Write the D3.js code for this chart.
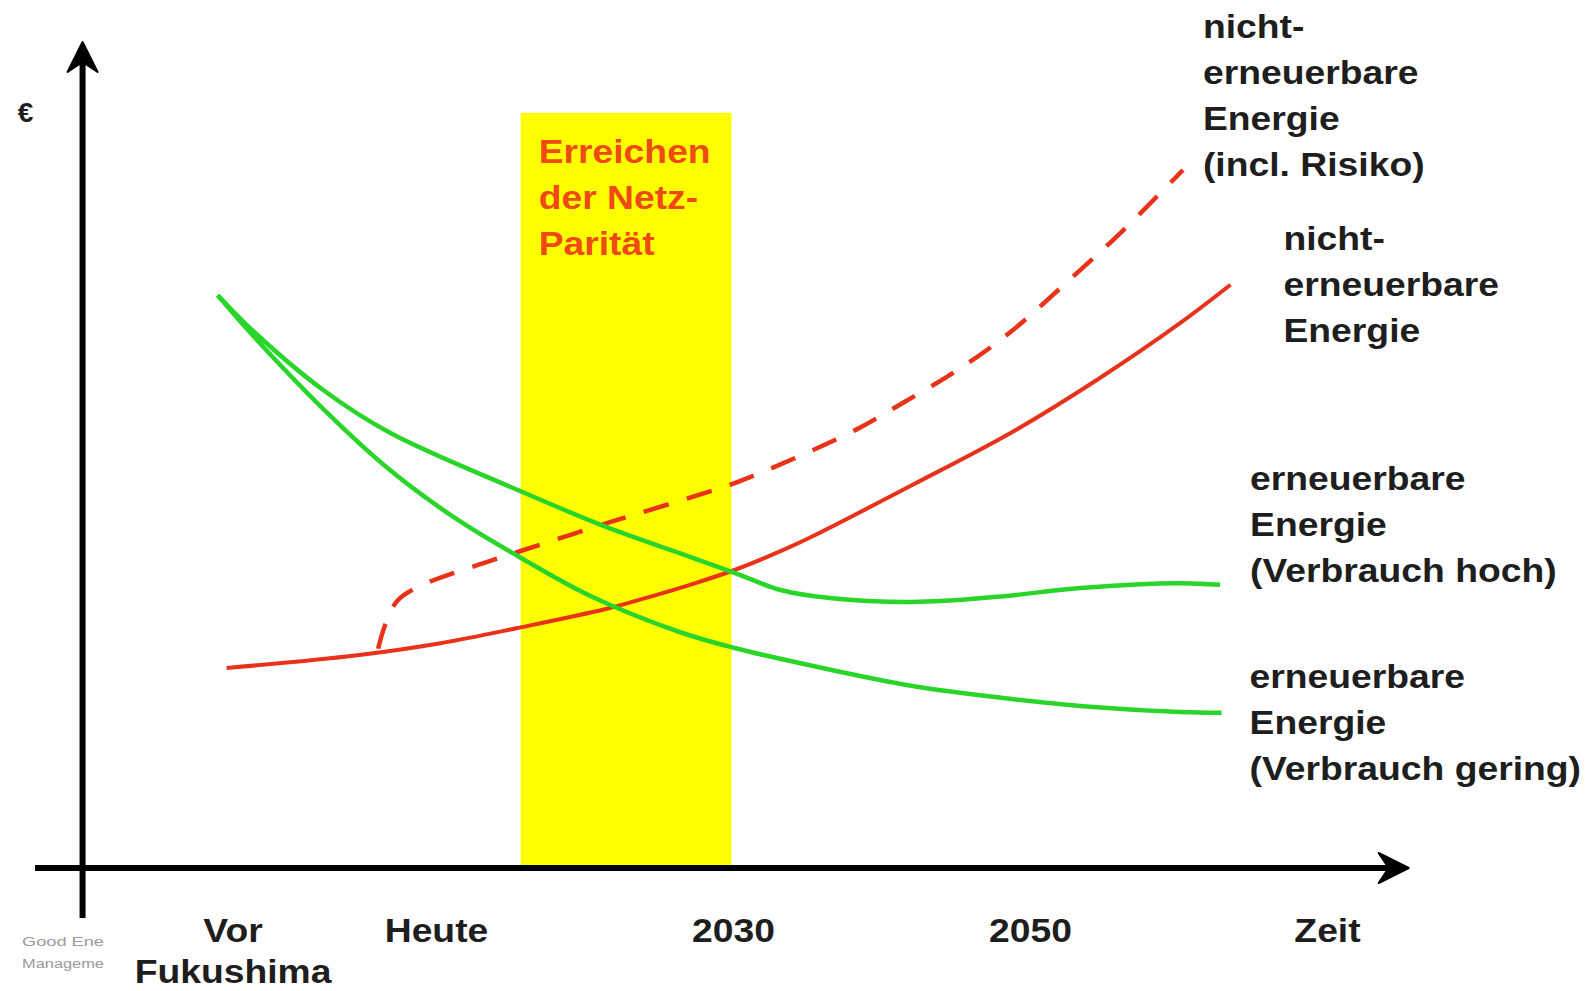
<!DOCTYPE html>
<html lang="de">
<head>
<meta charset="UTF-8">
<title>Netz-Parität</title>
<script src="https://cdn.jsdelivr.net/npm/d3@7"></script>
<style>
body{margin:0;background:#fff}
svg text{font-family:"Liberation Sans",Arial,sans-serif;font-weight:bold}
</style>
</head>
<body>
<svg id="chart" width="1596" height="991"></svg>
<script>
var width=1596,height=991

// Zeitachse (Jahre) und Beschriftung
var tickYears=[1996.3,2010,2030,2050,2070]
var tickLabels=[["Vor","Fukushima"],["Heute"],["2030"],["2050"],["Zeit"]]

// Zeitraum der Netz-Parität
var paritaetYears=[2015.7,2029.9]
var paritaetTop=94.4
var paritaetText=["Erreichen","der Netz-","Parität"]

// Kostenkurven [Jahr, €]
var nichtErneuerbarRisiko=[[2006.1,27.4],[2006.6,30.5],[2007.4,33.4],[2009.1,35.4],[2013.2,38.1],[2015.5,39.5],
  [2021.5,43.1],[2026.6,46],[2029.8,47.9],[2032.3,49.75],[2035.4,52.25],[2038.6,55.1],[2041.4,58.1],
  [2044.4,61.4],[2047.1,64.75],[2049.5,68.25],[2052.2,72.75],[2056.1,79.4],[2060.3,87.25]]
var nichtErneuerbar=[[1995.9,25],[2004.7,26.6],[2010.3,28.1],[2015.5,30],[2021.5,32.4],[2024.4,33.9],[2027.1,35.4],
  [2030.1,37.25],[2033.2,39.6],[2035.4,41.5],[2042.1,47.9],[2048.9,54.6],[2054.5,61],[2060.1,68.1],[2063.5,72.9]]
var erneuerbarHoch=[[1995.3,71.6],[1997.9,66.75],[2002.4,59.75],[2006.9,54.4],[2015.5,47.25],[2021.5,42.6],
  [2027.1,38.9],[2030.1,36.9],[2033.2,34.75],[2036.5,33.75],[2042.1,33.25],[2047.8,33.9],[2053.4,35],
  [2060.1,35.6],[2062.8,35.4]]
var erneuerbarGering=[[1995.3,71.6],[1997.9,66.1],[2002.4,57.4],[2006.9,49.75],[2011.4,43.6],[2015.5,39],
  [2020.4,34],[2026.4,29.5],[2030.1,27.5],[2035.4,25.25],[2042.1,22.75],[2048.9,21.1],[2054.5,20.1],
  [2060.1,19.5],[2062.9,19.4]]

var labelRisiko=["nicht-","erneuerbare","Energie","(incl. Risiko)"]
var labelNicht=["nicht-","erneuerbare","Energie"]
var labelHoch=["erneuerbare","Energie","(Verbrauch hoch)"]
var labelGering=["erneuerbare","Energie","(Verbrauch gering)"]

var red='#e8321a',green='#2ad52a',ink='#1e1e1e'
var svg=d3.select('#chart')

var x=d3.scaleLinear().domain([1985,2075]).range([64.75,1401.25])
var y=d3.scaleLinear().domain([0,100]).range([868,68])

// gelber Bereich
svg.append('rect').attr('x',x(paritaetYears[0])).attr('y',y(paritaetTop))
  .attr('width',x(paritaetYears[1])-x(paritaetYears[0])).attr('height',y(0)-y(paritaetTop))
  .attr('fill','#ffff00')

var pt=svg.append('text').attr('transform',`translate(${x(paritaetYears[0])+18},${y(paritaetTop)+50}) scale(1.13,1)`)
  .attr('font-size',33).attr('fill','#ef4a12')
paritaetText.forEach((s,i)=>pt.append('tspan').attr('x',0).attr('dy',i?46:0).text(s))

var line=d3.line().x(d=>x(d[0])).y(d=>y(d[1])).curve(d3.curveCatmullRom.alpha(0.5))

svg.append('path').datum(nichtErneuerbar).attr('fill','none').attr('stroke',red).attr('stroke-width',4).attr('d',line)
svg.append('path').datum(nichtErneuerbarRisiko).attr('fill','none').attr('stroke',red).attr('stroke-width',4.5)
  .attr('stroke-dasharray','26,19').attr('d',line)
svg.append('path').datum(erneuerbarHoch).attr('fill','none').attr('stroke',green).attr('stroke-width',4.5).attr('d',line)
svg.append('path').datum(erneuerbarGering).attr('fill','none').attr('stroke',green).attr('stroke-width',4.5).attr('d',line)

// Achsen mit Pfeilen
var ax0=x(1986.2),ay0=y(0)
svg.append('line').attr('x1',x(1983)).attr('x2',x(2074.5)).attr('y1',ay0).attr('y2',ay0).attr('stroke','#000').attr('stroke-width',6)
svg.append('line').attr('x1',ax0).attr('x2',ax0).attr('y1',y(-6.25)).attr('y2',y(102)).attr('stroke','#000').attr('stroke-width',6)
var yt=y(103.25)
svg.append('path').attr('d',`M${ax0},${yt} L${ax0+15},${yt+30} L${ax0},${yt+20} L${ax0-15},${yt+30} Z`).attr('fill','#000')
  .attr('stroke','#000').attr('stroke-width',2).attr('stroke-linejoin','round')
var xt=x(2075.5)
svg.append('path').attr('d',`M${xt},${ay0} L${xt-30},${ay0-15} L${xt-20},${ay0} L${xt-30},${ay0+15} Z`).attr('fill','#000')
  .attr('stroke','#000').attr('stroke-width',2).attr('stroke-linejoin','round')

svg.append('text').attr('x',ax0-57).attr('y',y(93.25)).attr('text-anchor','middle').attr('font-size',28).attr('fill',ink).text('€')

var ax=svg.append('g').attr('transform',`translate(0,${ay0})`)
  .call(d3.axisBottom(x).tickValues(tickYears).tickSize(0).tickPadding(0).tickFormat(''))
ax.select('.domain').remove()
ax.selectAll('.tick text').each(function(d,i){
  var t=d3.select(this).attr('y',null).attr('dy',null).attr('font-size',33).attr('fill',ink)
    .attr('transform','translate(0,74) scale(1.13,1)')
  tickLabels[i].forEach((s,j)=>t.append('tspan').attr('x',0).attr('dy',j?41:0).text(s))
})

// Beschriftung der Kurven
function label(lines,px,py){
  var t=svg.append('text').attr('transform',`translate(${px},${py}) scale(1.13,1)`).attr('font-size',33).attr('fill',ink)
  lines.forEach((s,i)=>t.append('tspan').attr('x',0).attr('dy',i?46:0).text(s))
}
var e1=nichtErneuerbarRisiko[nichtErneuerbarRisiko.length-1]
var e2=nichtErneuerbar[nichtErneuerbar.length-1]
var e3=erneuerbarHoch[erneuerbarHoch.length-1]
var e4=erneuerbarGering[erneuerbarGering.length-1]
label(labelRisiko,x(e1[0])+20,y(e1[1])-132)
label(labelNicht,x(e2[0])+53,y(e2[1])-35)
label(labelHoch,x(e3[0])+30,y(e3[1])-95)
label(labelGering,x(e4[0])+28,y(e4[1])-25)

// Quellenvermerk
svg.append('text').attr('x',22).attr('y',946).attr('font-size',12).attr('fill','#9a9a9a')
  .attr('textLength',82).attr('lengthAdjust','spacingAndGlyphs').style('font-weight','normal').text('Good Ene')
svg.append('text').attr('x',22).attr('y',968).attr('font-size',12).attr('fill','#9a9a9a')
  .attr('textLength',82).attr('lengthAdjust','spacingAndGlyphs').style('font-weight','normal').text('Manageme')
</script>
</body>
</html>
